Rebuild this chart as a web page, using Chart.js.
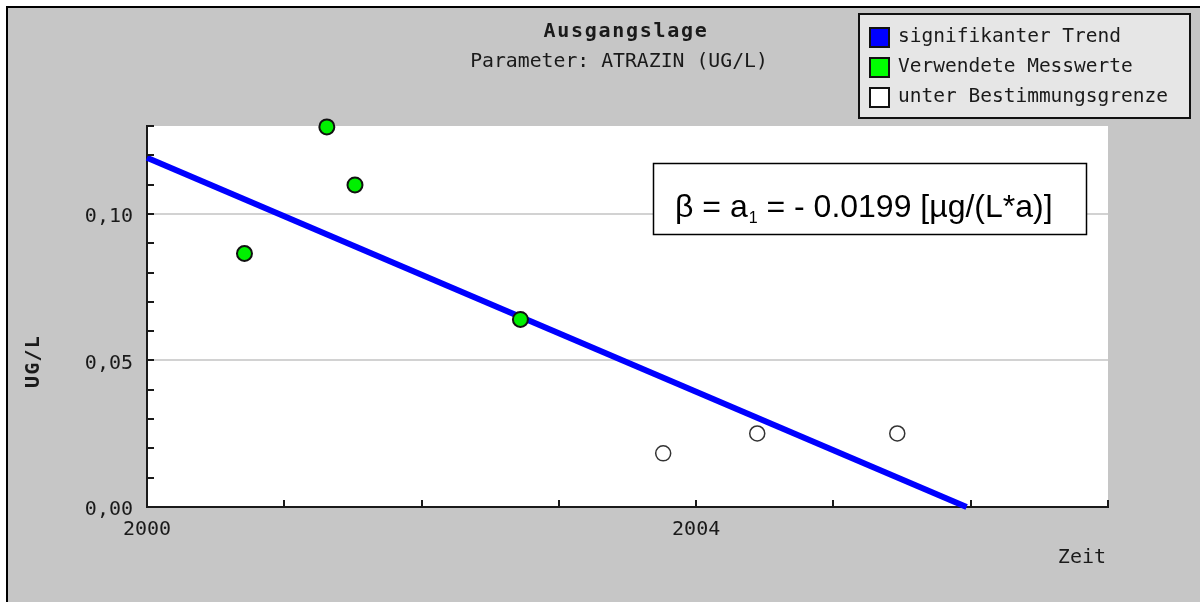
<!DOCTYPE html>
<html><head><meta charset="utf-8">
<script src="https://cdn.jsdelivr.net/npm/chart.js@4/dist/chart.umd.min.js"></script>
<style>html,body{margin:0;padding:0;background:#fff;overflow:hidden}#wrap{width:1200px;height:602px;position:relative}</style>
</head><body><div id="wrap"><canvas id="c" width="1200" height="602"></canvas></div>
<script>
// ---- data ----
const chartTitle = 'Ausgangslage';
const chartSubtitle = 'Parameter: ATRAZIN (UG/L)';
const seriesLabels = ['signifikanter Trend', 'Verwendete Messwerte', 'unter Bestimmungsgrenze'];
const trendX = [2000, 2005.97];
const trendY = [0.1192, 0];
const usedX = [2000.71, 2001.31, 2001.515, 2002.72];
const usedY = [0.0865, 0.1297, 0.1099, 0.0640];
const belowX = [2003.76, 2004.445, 2005.465];
const belowY = [0.0183, 0.0251, 0.0251];
const xTickLabels = { 2000: '2000', 2004: '2004' };
const yTickLabels = { 0: '0,00', 5: '0,05', 10: '0,10' }; // keyed in hundredths
const xAxisTitle = 'Zeit';
const yAxisTitle = 'UG/L';
const annotationParts = ['β = a', '1', ' = - 0.0199 [µg/(L*a)]'];

const toPts = (xs, ys) => xs.map((x, i) => ({ x: x, y: ys[i] }));
const MONO = '"DejaVu Sans Mono", "Liberation Mono", monospace';
const SANS = '"Liberation Sans", Arial, sans-serif';
const TXT = '#1a1a1a';

const decor = {
  id: 'decor',
  beforeDraw(chart) {
    const ctx = chart.ctx, W = chart.width, H = chart.height, a = chart.chartArea;
    ctx.save();
    ctx.fillStyle = '#ffffff'; ctx.fillRect(0, 0, W, H);
    ctx.fillStyle = '#c6c6c6'; ctx.fillRect(7, 7, W - 7, H - 7);
    ctx.strokeStyle = '#000'; ctx.lineWidth = 2;
    ctx.beginPath(); ctx.moveTo(7, H); ctx.lineTo(7, 7); ctx.lineTo(W, 7); ctx.stroke();
    ctx.fillStyle = '#ffffff'; ctx.fillRect(a.left, a.top, a.right - a.left, a.bottom - a.top);
    ctx.restore();
  },
  afterDraw(chart) {
    const ctx = chart.ctx, a = chart.chartArea, xs = chart.scales.x, ys = chart.scales.y;
    ctx.save();
    // inward tick marks
    ctx.strokeStyle = '#1a1a1a'; ctx.lineWidth = 2;
    ys.ticks.forEach(t => {
      const y = Math.round(ys.getPixelForValue(t.value));
      ctx.beginPath(); ctx.moveTo(a.left, y); ctx.lineTo(a.left + 7, y); ctx.stroke();
    });
    xs.ticks.forEach(t => {
      const x = Math.round(xs.getPixelForValue(t.value));
      ctx.beginPath(); ctx.moveTo(x, a.bottom); ctx.lineTo(x, a.bottom - 7); ctx.stroke();
    });
    // titles
    ctx.fillStyle = TXT; ctx.textBaseline = 'middle'; ctx.textAlign = 'center';
    ctx.font = 'bold 20px ' + MONO; ctx.letterSpacing = '1.7px';
    ctx.fillText(chartTitle, 626, 32);
    ctx.letterSpacing = '0px';
    ctx.font = '19.8px ' + MONO;
    ctx.fillText(chartSubtitle, 619, 62);
    // axis titles
    ctx.textAlign = 'right';
    ctx.font = '20px ' + MONO;
    ctx.fillText(xAxisTitle, a.right - 2, 558);
    ctx.save();
    ctx.translate(34, (a.top + a.bottom) / 2 + 45);
    ctx.rotate(-Math.PI / 2);
    ctx.textAlign = 'center';
    ctx.font = 'bold 20px ' + MONO; ctx.letterSpacing = '1.2px';
    ctx.fillText(yAxisTitle, 0, 0);
    ctx.restore();
    ctx.letterSpacing = '0px';
    // legend
    const lx = 859, ly = 14, lw = 331, lh = 104;
    ctx.fillStyle = '#e6e6e6'; ctx.fillRect(lx, ly, lw, lh);
    ctx.strokeStyle = '#111'; ctx.lineWidth = 2; ctx.strokeRect(lx, ly, lw, lh);
    const swatch = chart.data.datasets.map(d => d.legendColor);
    chart.data.datasets.forEach((d, i) => {
      const cy = 37 + i * 30;
      ctx.fillStyle = swatch[i]; ctx.fillRect(870, cy - 9, 19, 19);
      ctx.strokeStyle = '#111'; ctx.lineWidth = 2; ctx.strokeRect(870, cy - 9, 19, 19);
      ctx.fillStyle = TXT; ctx.textAlign = 'left'; ctx.textBaseline = 'middle';
      ctx.font = '19.5px ' + MONO;
      ctx.fillText(d.label, 898, cy);
    });
    // annotation box
    ctx.fillStyle = '#fff'; ctx.fillRect(653, 163, 434, 72);
    ctx.strokeStyle = '#000'; ctx.lineWidth = 1.5; ctx.strokeRect(653.5, 163.5, 433, 71);
    ctx.fillStyle = '#000'; ctx.textBaseline = 'alphabetic'; ctx.textAlign = 'left';
    let x = 675;
    ctx.font = '32px ' + SANS;
    ctx.fillText(annotationParts[0], x, 217); x += ctx.measureText(annotationParts[0]).width + 1;
    ctx.font = '16px ' + SANS;
    ctx.fillText(annotationParts[1], x, 223); x += ctx.measureText(annotationParts[1]).width;
    ctx.font = '32px ' + SANS;
    ctx.fillText(annotationParts[2], x, 217);
    ctx.restore();
  }
};

new Chart(document.getElementById('c'), {
  type: 'scatter',
  data: {
    datasets: [
      { label: seriesLabels[0], type: 'line', data: toPts(trendX, trendY), showLine: true,
        borderColor: '#0000ff', borderWidth: 6, pointRadius: 0, borderCapStyle: 'butt',
        legendColor: '#0000ff', order: 3, clip: false },
      { label: seriesLabels[1], data: toPts(usedX, usedY), backgroundColor: '#00f000',
        borderColor: '#111', borderWidth: 2, pointRadius: 7.5, legendColor: '#00ff00', order: 1, clip: false },
      { label: seriesLabels[2], data: toPts(belowX, belowY), backgroundColor: '#ffffff',
        borderColor: '#333', borderWidth: 1.5, pointRadius: 7.5, legendColor: '#ffffff', order: 2, clip: false }
    ]
  },
  options: {
    responsive: false, animation: false, devicePixelRatio: 1,
    layout: { padding: { top: 126, right: 92, left: 0, bottom: 0 } },
    plugins: { legend: { display: false }, title: { display: false }, tooltip: { enabled: false } },
    scales: {
      x: {
        type: 'linear', min: 2000, max: 2007,
        afterFit: s => { s.height = 95; },
        grid: { display: false, drawTicks: false },
        border: { display: true, color: '#1a1a1a', width: 2 },
        ticks: { stepSize: 1, autoSkip: false, maxRotation: 0, padding: 11, color: TXT,
          font: { family: MONO, size: 20 },
          callback: v => xTickLabels[Math.round(v)] ?? '' }
      },
      y: {
        type: 'linear', min: 0, max: 0.13,
        afterFit: s => { s.width = 147; },
        grid: { drawTicks: false, lineWidth: 2,
          color: c => { const k = Math.round(c.tick.value * 100); return (k > 0 && k % 5 === 0) ? '#d2d2d2' : 'rgba(0,0,0,0)'; } },
        border: { display: true, color: '#1a1a1a', width: 2 },
        ticks: { stepSize: 0.01, autoSkip: false, includeBounds: false, padding: 14, labelOffset: 3, color: TXT,
          font: { family: MONO, size: 20 },
          callback: v => yTickLabels[Math.round(v * 100)] ?? '' }
      }
    }
  },
  plugins: [decor]
});
</script>
</body></html>
